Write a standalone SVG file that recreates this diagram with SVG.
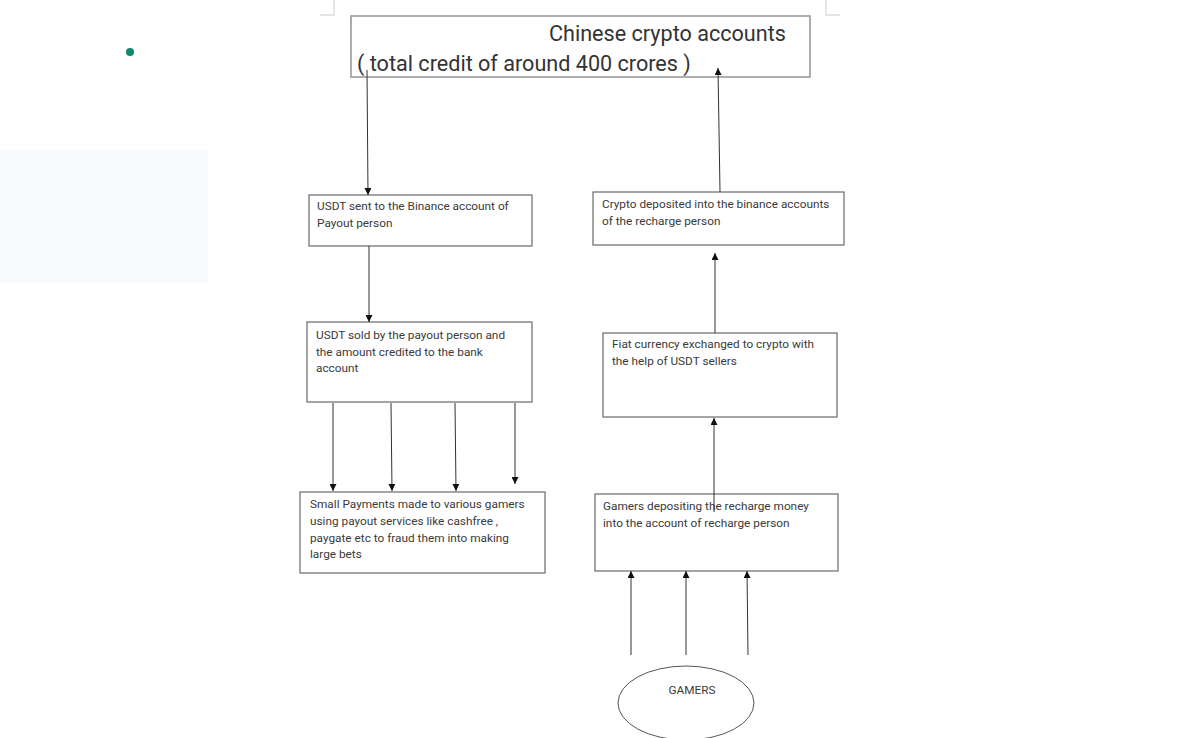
<svg xmlns="http://www.w3.org/2000/svg" width="1200" height="738" viewBox="0 0 1200 738">
<defs>
<marker id="ah" viewBox="0 0 10 10" refX="10" refY="5" markerWidth="7" markerHeight="7" markerUnits="userSpaceOnUse" orient="auto">
<path d="M0,0 L10,5 L0,10 Z" fill="#111"/>
</marker>
<style>
.box{fill:#fff;stroke:#6a6a6a;stroke-width:1.2}
.top{fill:#fff;stroke:#9a9a9a;stroke-width:1.6}
.t{font-family:Roboto,"Liberation Sans",sans-serif;font-size:11.8px;fill:#3a3a3a}
.big{font-family:Roboto,"Liberation Sans",sans-serif;font-size:21.6px;fill:#333}
.ln{stroke:#333;stroke-width:1;fill:none;marker-end:url(#ah)}
.mark{stroke:#ddd;stroke-width:1.5;fill:none}
</style>
</defs>
<rect width="1200" height="738" fill="#fff"/>
<g id="background">
<rect x="0" y="150" width="208" height="133" fill="#f9fafb"/>
<circle cx="130" cy="52" r="4" fill="#0f8a6e"/>
<path class="mark" d="M334,0 V15 H320"/>
<path class="mark" d="M826,0 V15 H840"/>
</g>
<g id="chinese-accounts">
<rect class="top" x="351" y="16" width="459" height="61"/>
<text class="big" x="549" y="41">Chinese crypto accounts</text>
<text class="big" x="357" y="71">( total credit of around 400 crores )</text>
</g>
<g id="usdt-sent">
<rect class="box" x="309" y="195" width="223" height="51"/>
<text class="t" x="317" y="210">USDT sent to the Binance account of</text>
<text class="t" x="317" y="227">Payout person</text>
</g>
<g id="usdt-sold">
<rect class="box" x="307" y="322" width="225" height="80"/>
<text class="t" x="316" y="339">USDT sold by the payout person and</text>
<text class="t" x="316" y="356">the amount credited to the bank</text>
<text class="t" x="316" y="372">account</text>
</g>
<g id="small-payments">
<rect class="box" x="300" y="492" width="245" height="81"/>
<text class="t" x="310" y="508">Small Payments made to various gamers</text>
<text class="t" x="310" y="525">using payout services like cashfree ,</text>
<text class="t" x="310" y="542">paygate etc to fraud them into making</text>
<text class="t" x="310" y="558">large bets</text>
</g>
<g id="crypto-deposited">
<rect class="box" x="593" y="192" width="251" height="53"/>
<text class="t" x="602" y="208">Crypto deposited into the binance accounts</text>
<text class="t" x="602" y="225">of the recharge person</text>
</g>
<g id="fiat-exchanged">
<rect class="box" x="603" y="333" width="234" height="84"/>
<text class="t" x="612" y="348">Fiat currency exchanged to crypto with</text>
<text class="t" x="612" y="365">the help of USDT sellers</text>
</g>
<g id="gamers-depositing">
<rect class="box" x="595" y="494" width="243" height="77"/>
<text class="t" x="603" y="510">Gamers depositing the recharge money</text>
<text class="t" x="603" y="527">into the account of recharge person</text>
</g>
<g id="gamers">
<ellipse cx="686" cy="703" rx="68" ry="37" fill="#fff" stroke="#555" stroke-width="1"/>
<text class="t" x="692" y="694" text-anchor="middle">GAMERS</text>
</g>
<g id="connectors">
<line class="ln" x1="367" y1="70" x2="368" y2="195"/>
<line class="ln" x1="369" y1="246" x2="369" y2="322"/>
<line class="ln" x1="333" y1="403" x2="333" y2="491"/>
<line class="ln" x1="391" y1="403" x2="392" y2="491"/>
<line class="ln" x1="455" y1="403" x2="456" y2="491"/>
<line class="ln" x1="515" y1="403" x2="515" y2="484"/>
<line class="ln" x1="720" y1="192" x2="718" y2="68"/>
<line class="ln" x1="715" y1="333" x2="715" y2="253"/>
<line class="ln" x1="714" y1="512" x2="714" y2="418"/>
<line class="ln" x1="631" y1="655" x2="631" y2="571"/>
<line class="ln" x1="686" y1="655" x2="686" y2="571"/>
<line class="ln" x1="748" y1="655" x2="747" y2="571"/>
</g>
</svg>
